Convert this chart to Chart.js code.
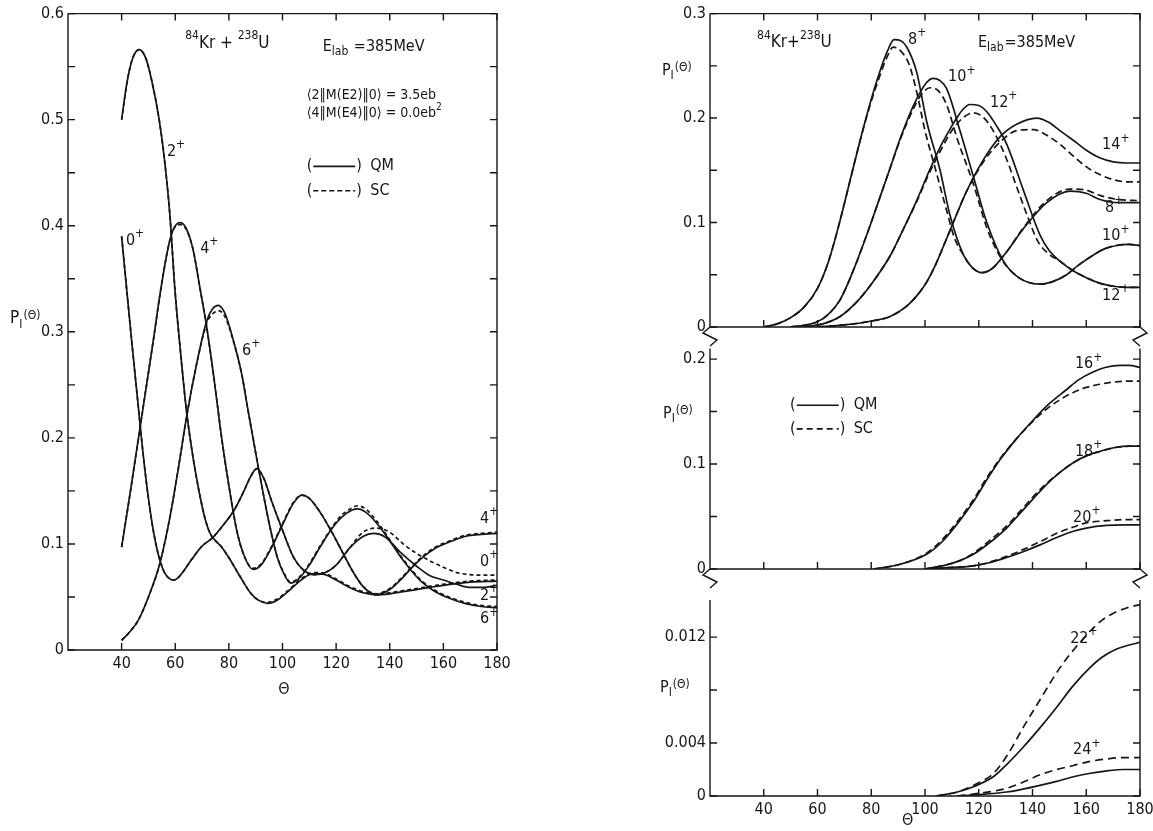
<!DOCTYPE html>
<html>
<head>
<meta charset="utf-8">
<script src="https://cdn.jsdelivr.net/npm/chart.js@4.4.0/dist/chart.umd.min.js"></script>
<style>
  html, body { margin: 0; background: #fff; }
  #page { position: relative; width: 1153px; height: 831px; overflow: hidden; background: #fff; }
  canvas { position: absolute; }
</style>
</head>
<body>
<div id="page">
  <canvas id="left" width="540" height="720" style="left:0px;top:0px"></canvas>
  <canvas id="rTop" width="513" height="350" style="left:640px;top:0px"></canvas>
  <canvas id="rMid" width="513" height="265" style="left:640px;top:335px"></canvas>
  <canvas id="rBot" width="540" height="251" style="left:640px;top:580px"></canvas>
</div>
<script>
// axis ticks
const thetaTicks = [40, 60, 80, 100, 120, 140, 160, 180];
const leftYTicks = [0, 0.05, 0.1, 0.15, 0.2, 0.25, 0.3, 0.35, 0.4, 0.45, 0.5, 0.55, 0.6];
const leftYLabels = ['0', '', '0.1', '', '0.2', '', '0.3', '', '0.4', '', '0.5', '', '0.6'];
const topYTicks = [0, 0.05, 0.1, 0.15, 0.2, 0.25, 0.3];
const topYLabels = ['0', '', '0.1', '', '0.2', '', '0.3'];
const midYTicks = [0, 0.05, 0.1, 0.15, 0.2];
const midYLabels = ['0', '', '0.1', '', '0.2'];
const botYTicks = [0, 0.004, 0.008, 0.012];
const botYLabels = ['0', '0.004', '', '0.012'];

// left panel: I = 0+, 2+, 4+, 6+  (QM solid, SC dashed)
const th0 = [40, 42, 44, 46, 48, 50, 52, 54, 56, 58, 59.5, 61, 63, 66, 70, 74, 78, 82, 86, 88, 90.4, 93, 96, 100, 104, 108, 112, 116, 120, 125, 130, 134, 138, 144, 150, 155, 160, 165, 170, 175, 180];
const p0qm = [0.39, 0.337, 0.285, 0.235, 0.185, 0.143, 0.11, 0.087, 0.073, 0.067, 0.066, 0.068, 0.074, 0.085, 0.098, 0.106, 0.118, 0.132, 0.152, 0.163, 0.171, 0.162, 0.14, 0.113, 0.088, 0.075, 0.071, 0.073, 0.08, 0.096, 0.107, 0.110, 0.107, 0.092, 0.079, 0.07, 0.066, 0.062, 0.059, 0.059, 0.061];
const th0sc = [40, 42, 44, 46, 48, 50, 52, 54, 56, 58, 59.5, 61, 63, 66, 70, 74, 78, 82, 86, 88, 90.4, 93, 96, 100, 104, 108, 112, 116, 120, 125, 130, 135, 140, 145, 150, 155, 160, 165, 170, 175, 180];
const p0sc = [0.39, 0.337, 0.285, 0.235, 0.185, 0.143, 0.11, 0.087, 0.073, 0.067, 0.066, 0.068, 0.074, 0.085, 0.098, 0.106, 0.118, 0.132, 0.152, 0.163, 0.171, 0.162, 0.14, 0.113, 0.088, 0.075, 0.071, 0.073, 0.08, 0.096, 0.111, 0.115, 0.111, 0.100, 0.091, 0.084, 0.078, 0.073, 0.071, 0.0705, 0.0705];

const th2 = [40, 42, 44, 46.5, 49, 51.3, 54, 56, 58, 59.9, 62, 64.3, 66.8, 69, 71, 73, 75, 77, 80, 84, 88, 91, 94.5, 98, 102, 106, 110, 113, 116, 120, 125, 130, 135, 140, 145, 150, 160, 170, 180];
const p2qm = [0.50, 0.535, 0.557, 0.566, 0.558, 0.536, 0.50, 0.462, 0.41, 0.339, 0.28, 0.223, 0.179, 0.148, 0.125, 0.11, 0.103, 0.098, 0.087, 0.07, 0.054, 0.047, 0.044, 0.047, 0.055, 0.064, 0.071, 0.072, 0.071, 0.066, 0.059, 0.054, 0.052, 0.053, 0.055, 0.057, 0.061, 0.064, 0.065];
const p2sc = [0.50, 0.535, 0.557, 0.566, 0.558, 0.536, 0.50, 0.462, 0.41, 0.339, 0.28, 0.223, 0.179, 0.148, 0.125, 0.11, 0.103, 0.098, 0.087, 0.07, 0.054, 0.047, 0.045, 0.048, 0.056, 0.065, 0.072, 0.073, 0.072, 0.067, 0.06, 0.055, 0.053, 0.054, 0.056, 0.058, 0.062, 0.065, 0.066];

const th4 = [40, 43, 46, 49, 52, 54.3, 57, 59, 61.8, 64, 66.6, 69.3, 71.7, 74.5, 77.3, 80, 83, 86, 89, 92, 96, 100, 104, 107.2, 110, 114, 118, 122, 126, 130, 135, 140, 144, 148, 152.6, 157, 162.5, 168, 174, 180];
const p4qm = [0.097, 0.145, 0.195, 0.245, 0.295, 0.335, 0.375, 0.395, 0.403, 0.398, 0.378, 0.34, 0.305, 0.255, 0.2, 0.155, 0.112, 0.087, 0.076, 0.08, 0.097, 0.118, 0.138, 0.146, 0.143, 0.13, 0.113, 0.094, 0.075, 0.06, 0.052, 0.057, 0.066, 0.077, 0.088, 0.096, 0.102, 0.107, 0.109, 0.110];
const p4sc = [0.097, 0.145, 0.195, 0.245, 0.295, 0.335, 0.375, 0.395, 0.401, 0.397, 0.378, 0.34, 0.305, 0.255, 0.2, 0.155, 0.112, 0.087, 0.077, 0.081, 0.098, 0.119, 0.139, 0.146, 0.143, 0.13, 0.113, 0.094, 0.075, 0.06, 0.053, 0.058, 0.067, 0.078, 0.089, 0.097, 0.103, 0.108, 0.11, 0.111];

const th6 = [40, 43, 46.2, 50, 54.3, 58, 61.2, 64.3, 68, 71.7, 74, 76.1, 78.6, 81, 84.8, 87, 89, 91, 93, 95.4, 98, 100.3, 103, 106, 110, 114, 118, 122, 126, 128, 131, 135, 140, 144, 148, 152, 157, 162, 168, 174, 180];
const p6qm = [0.009, 0.017, 0.028, 0.05, 0.082, 0.125, 0.172, 0.221, 0.27, 0.31, 0.322, 0.325, 0.317, 0.298, 0.26, 0.228, 0.2, 0.172, 0.145, 0.115, 0.088, 0.073, 0.063, 0.067, 0.08, 0.097, 0.113, 0.125, 0.132, 0.133, 0.13, 0.12, 0.103, 0.088, 0.075, 0.064, 0.055, 0.049, 0.044, 0.041, 0.040];
const p6sc = [0.009, 0.017, 0.028, 0.05, 0.082, 0.125, 0.172, 0.221, 0.27, 0.308, 0.317, 0.32, 0.314, 0.297, 0.26, 0.228, 0.2, 0.172, 0.145, 0.115, 0.088, 0.074, 0.064, 0.068, 0.081, 0.098, 0.114, 0.127, 0.134, 0.136, 0.133, 0.122, 0.104, 0.089, 0.076, 0.065, 0.056, 0.05, 0.045, 0.042, 0.041];

// right top panel: I = 8+ .. 14+
const th8 = [40, 45, 50, 55, 60, 64, 68, 72, 76, 80, 83, 86, 88.5, 91, 93.2, 96.9, 100.6, 105.6, 109.3, 114.3, 117.5, 121.1, 125, 130.4, 136.6, 145.3, 154, 160, 165.1, 172, 180];
const p8qm = [0, 0.003, 0.009, 0.019, 0.037, 0.062, 0.098, 0.139, 0.18, 0.218, 0.243, 0.264, 0.275, 0.274, 0.268, 0.244, 0.197, 0.15, 0.107, 0.069, 0.057, 0.052, 0.056, 0.072, 0.094, 0.119, 0.130, 0.128, 0.122, 0.119, 0.119];
const th8sc = [40, 45, 50, 55, 60, 64, 68, 72, 76, 80, 83, 85.8, 88.2, 91, 94, 97, 100, 104, 108, 111, 114.3, 117.5, 121.1, 125, 130.4, 136.6, 145.3, 154, 160, 165.1, 172, 180];
const p8sc = [0, 0.003, 0.009, 0.019, 0.037, 0.062, 0.098, 0.139, 0.18, 0.216, 0.239, 0.258, 0.268, 0.264, 0.252, 0.224, 0.188, 0.15, 0.112, 0.085, 0.069, 0.057, 0.052, 0.056, 0.072, 0.095, 0.121, 0.132, 0.131, 0.126, 0.122, 0.121];

const th10 = [50, 56, 60, 64, 68.4, 73, 78.3, 82, 87, 91, 95.7, 100.6, 103.1, 105.5, 108.1, 113, 118, 123, 129.2, 135, 142.8, 147, 152.7, 157, 162.7, 167, 171.3, 176, 180];
const p10qm = [0, 0.002, 0.005, 0.012, 0.026, 0.052, 0.088, 0.115, 0.152, 0.182, 0.212, 0.234, 0.238, 0.236, 0.228, 0.188, 0.144, 0.10, 0.063, 0.047, 0.041, 0.043, 0.050, 0.059, 0.069, 0.075, 0.078, 0.079, 0.078];
const th10sc = [50, 56, 60, 64, 68.4, 73, 78.3, 82, 87, 91, 95.7, 98.5, 101.9, 105, 108, 112, 118, 123, 128.5, 135, 142.8, 147, 152.7, 157, 162.7, 167, 171.3, 176, 180];
const p10sc = [0, 0.002, 0.005, 0.012, 0.026, 0.052, 0.088, 0.115, 0.152, 0.181, 0.209, 0.222, 0.229, 0.226, 0.213, 0.18, 0.137, 0.095, 0.065, 0.047, 0.041, 0.043, 0.050, 0.059, 0.069, 0.075, 0.078, 0.079, 0.078];

const th12 = [55, 62, 68.4, 74.6, 80, 87, 92, 96.9, 101, 105.6, 109, 111.8, 114, 116.7, 120, 123, 126.5, 130.4, 136.6, 142.8, 146, 150.2, 155, 160.2, 165, 170.1, 175, 180];
const p12qm = [0, 0.003, 0.01, 0.024, 0.041, 0.068, 0.094, 0.121, 0.146, 0.172, 0.188, 0.2, 0.208, 0.213, 0.212, 0.206, 0.193, 0.175, 0.131, 0.088, 0.074, 0.063, 0.054, 0.047, 0.042, 0.039, 0.038, 0.038];
const th12sc = [55, 62, 68.4, 74.6, 80, 87, 92, 96.9, 101, 105.6, 110, 114, 118, 122, 126, 130, 134, 138, 142, 146, 150.2, 155, 160.2, 165, 170.1, 175, 180];
const p12sc = [0, 0.003, 0.01, 0.024, 0.041, 0.068, 0.094, 0.12, 0.144, 0.168, 0.188, 0.2, 0.205, 0.2, 0.185, 0.163, 0.135, 0.107, 0.082, 0.07, 0.063, 0.054, 0.047, 0.042, 0.039, 0.038, 0.038];

const th14 = [60, 70, 80.8, 87, 93.2, 97, 100.6, 104, 108.1, 111.8, 115.5, 121.7, 127.9, 134.1, 141.6, 146, 150.2, 155, 160.2, 165, 170.1, 175, 180];
const p14qm = [0, 0.002, 0.006, 0.01, 0.02, 0.03, 0.043, 0.06, 0.085, 0.108, 0.13, 0.160, 0.182, 0.194, 0.200, 0.196, 0.188, 0.179, 0.169, 0.162, 0.158, 0.157, 0.157];
const th14sc = [60, 70, 80.8, 87, 93.2, 97, 100.6, 104, 108.1, 111.8, 115.5, 121.7, 127.9, 134.1, 140.3, 145, 150.2, 155, 160.2, 165, 170.1, 175, 180];
const p14sc = [0, 0.002, 0.006, 0.01, 0.02, 0.03, 0.043, 0.06, 0.085, 0.108, 0.13, 0.158, 0.177, 0.188, 0.189, 0.184, 0.175, 0.164, 0.153, 0.146, 0.141, 0.139, 0.139];

// right middle panel: I = 16+, 18+, 20+
const th16 = [80.8, 90, 100.6, 106, 112, 118, 123, 127.9, 134, 140.3, 146, 152.7, 157, 162.7, 167, 172.6, 176, 180];
const p16qm = [0, 0.004, 0.014, 0.025, 0.043, 0.064, 0.085, 0.104, 0.124, 0.142, 0.157, 0.171, 0.18, 0.188, 0.192, 0.194, 0.194, 0.192];
const th16sc = [80.8, 90, 100.6, 106, 112, 118, 123, 127.9, 134, 140.3, 145, 150, 155, 160, 165, 170, 175, 180];
const p16sc = [0, 0.004, 0.015, 0.027, 0.045, 0.066, 0.087, 0.105, 0.124, 0.141, 0.152, 0.161, 0.168, 0.173, 0.176, 0.178, 0.179, 0.179];

const th18 = [100, 108, 113, 118, 124, 130.4, 135, 140.3, 145, 150.2, 155, 160.2, 165, 171.3, 176, 180];
const p18qm = [0, 0.004, 0.008, 0.014, 0.025, 0.039, 0.052, 0.067, 0.08, 0.092, 0.101, 0.108, 0.112, 0.116, 0.117, 0.117];
const p18sc = [0, 0.004, 0.008, 0.015, 0.027, 0.041, 0.054, 0.069, 0.081, 0.092, 0.101, 0.108, 0.112, 0.116, 0.117, 0.117];

const th20 = [100, 110, 118, 124, 130.4, 136, 142.8, 149, 155.2, 160, 167.7, 174, 180];
const p20qm = [0, 0.0015, 0.003, 0.006, 0.011, 0.016, 0.023, 0.03, 0.036, 0.039, 0.0415, 0.042, 0.042];
const p20sc = [0, 0.0015, 0.003, 0.0065, 0.012, 0.018, 0.026, 0.034, 0.040, 0.044, 0.046, 0.047, 0.047];

// right bottom panel: I = 22+, 24+
const th22 = [104, 112, 118, 125.4, 131, 136.6, 143, 149, 155, 161.4, 166, 171.3, 176, 180];
const p22qm = [0, 0.0003, 0.0007, 0.00145, 0.0025, 0.0037, 0.0052, 0.0067, 0.0083, 0.0097, 0.0105, 0.0111, 0.0114, 0.0116];
const th22sc = [104, 112, 118, 125.4, 131, 136.6, 142, 147.7, 152, 157.7, 162.7, 166, 170.1, 175, 180];
const p22sc = [0, 0.0003, 0.0008, 0.0017, 0.0032, 0.0052, 0.007, 0.0089, 0.0102, 0.0116, 0.0127, 0.0133, 0.0138, 0.0142, 0.01445];

const th24 = [112, 120, 130.4, 136, 142.8, 149, 155.2, 161, 167.7, 174, 180];
const p24qm = [0, 0.0001, 0.0003, 0.0005, 0.0008, 0.0011, 0.00145, 0.0017, 0.0019, 0.002, 0.002];
const p24sc = [0, 0.0002, 0.00058, 0.001, 0.0016, 0.002, 0.0023, 0.0026, 0.0028, 0.0029, 0.0029];

const ink = '#161616';
const fam = '"DejaVu Sans Condensed", "Liberation Sans Narrow", "DejaVu Sans", sans-serif';

// text placed in data units of each panel
const sup = t => [t, 'sup'];
const notes = {
  left: [
    { x: 63.7, y: 0.572, parts: [sup('84'), 'Kr + ', sup('238'), 'U'], size: 17 },
    { x: 115, y: 0.569, parts: ['E', ['lab', 'sub'], ' =385MeV'], size: 16 },
    { x: 109, y: 0.523, parts: ['\u27E82\u2016M(E2)\u20160\u27E9 = 3.5eb'], size: 14 },
    { x: 109, y: 0.506, parts: ['\u27E84\u2016M(E4)\u20160\u27E9 = 0.0eb', sup('2')], size: 14 },
    { x: 109, y: 0.456, key: [], label: 'QM' },
    { x: 109, y: 0.433, key: [5, 3], label: 'SC' },
    { x: 56.9, y: 0.470, parts: ['2', sup('+')] },
    { x: 41.6, y: 0.386, parts: ['0', sup('+')] },
    { x: 69.3, y: 0.378, parts: ['4', sup('+')] },
    { x: 84.9, y: 0.282, parts: ['6', sup('+')] },
    { x: 173.7, y: 0.124, parts: ['4', sup('+')] },
    { x: 173.7, y: 0.083, parts: ['0', sup('+')] },
    { x: 173.7, y: 0.051, parts: ['2', sup('+')] },
    { x: 173.7, y: 0.029, parts: ['6', sup('+')] },
    { x: -1.6, y: 0.312, parts: ['P', ['I', 'sub'], ['(\u0398)', 'hi']], size: 17 },
    { x: 98.4, y: -0.0376, parts: ['\u0398'] }
  ],
  rTop: [
    { x: 37.5, y: 0.272, parts: [sup('84'), 'Kr+', sup('238'), 'U'], size: 17 },
    { x: 119.7, y: 0.272, parts: ['E', ['lab', 'sub'], '=385MeV'], size: 16 },
    { x: 93.7, y: 0.275, parts: ['8', sup('+')] },
    { x: 108.6, y: 0.239, parts: ['10', sup('+')] },
    { x: 124.2, y: 0.215, parts: ['12', sup('+')] },
    { x: 165.9, y: 0.174, parts: ['14', sup('+')] },
    { x: 167, y: 0.114, parts: ['8', sup('+')] },
    { x: 165.9, y: 0.087, parts: ['10', sup('+')] },
    { x: 165.9, y: 0.030, parts: ['12', sup('+')] },
    { x: 2.1, y: 0.2456, parts: ['P', ['I', 'sub'], ['(\u0398)', 'hi']], size: 16 }
  ],
  rMid: [
    { x: 49.8, y: 0.156, key: [], label: 'QM' },
    { x: 49.8, y: 0.1335, key: [6, 4], label: 'SC' },
    { x: 155.8, y: 0.195, parts: ['16', sup('+')] },
    { x: 155.8, y: 0.112, parts: ['18', sup('+')] },
    { x: 155.1, y: 0.049, parts: ['20', sup('+')] },
    { x: 2.5, y: 0.148, parts: ['P', ['I', 'sub'], ['(\u0398)', 'hi']], size: 16 }
  ],
  rBot: [
    { x: 154, y: 0.0119, parts: ['22', sup('+')] },
    { x: 155.1, y: 0.00345, parts: ['24', sup('+')] },
    { x: 1.4, y: 0.0082, parts: ['P', ['I', 'sub'], ['(\u0398)', 'hi']], size: 16 },
    { x: 91.4, y: -0.0019, parts: ['\u0398'] }
  ]
};
const frames = {
  left: { top: true, breakBelow: false },
  rTop: { top: true, breakBelow: true },
  rMid: { top: false, breakBelow: true },
  rBot: { top: false, breakBelow: false }
};

function richText(ctx, x, y, parts, size) {
  let cx = x;
  parts.forEach(part => {
    const [txt, kind] = typeof part === 'string' ? [part, ''] : part;
    const s = kind ? Math.round(size * 0.72) : size;
    const dy = kind === 'sup' ? -size * 0.42 : kind === 'sub' ? size * 0.32 : kind === 'hi' ? -size * 0.18 : 0;
    ctx.font = s + 'px ' + fam;
    ctx.fillText(txt, cx, y + dy);
    cx += ctx.measureText(txt).width + (kind === 'sub' ? 1 : 0);
  });
}

function drawKey(ctx, px, py, dash, label) {
  ctx.font = '16px ' + fam;
  ctx.fillText('(', px, py);
  const x0 = px + ctx.measureText('(').width + 1;
  const x1 = x0 + 42;
  ctx.setLineDash(dash);
  ctx.lineWidth = 1.6;
  ctx.beginPath();
  ctx.moveTo(x0, py);
  ctx.lineTo(x1, py);
  ctx.stroke();
  ctx.setLineDash([]);
  ctx.fillText(')', x1 + 1, py);
  ctx.fillText(label, x1 + 15, py);
}

function zig(ctx, x, y, dir) {
  ctx.beginPath();
  ctx.moveTo(x, y);
  ctx.lineTo(x + 7 * dir, y + 6);
  ctx.lineTo(x - 7 * dir, y + 13);
  ctx.lineTo(x, y + 19);
  ctx.stroke();
}

const framePlugin = {
  id: 'frame',
  afterDraw(chart) {
    const id = chart.canvas.id;
    const f = frames[id];
    const { ctx, chartArea: a, scales: { x, y } } = chart;
    ctx.save();
    ctx.strokeStyle = ink;
    ctx.fillStyle = ink;
    ctx.lineWidth = 1.4;
    ctx.setLineDash([]);
    ctx.beginPath();
    ctx.moveTo(a.left, a.top);
    ctx.lineTo(a.left, a.bottom);
    ctx.lineTo(a.right, a.bottom);
    ctx.lineTo(a.right, a.top);
    if (f.top) ctx.lineTo(a.left, a.top);
    ctx.stroke();

    // inward tick marks
    const L = 7;
    ctx.beginPath();
    x.ticks.forEach(t => {
      const px = x.getPixelForValue(t.value);
      ctx.moveTo(px, a.bottom);
      ctx.lineTo(px, a.bottom - L);
      if (f.top) {
        ctx.moveTo(px, a.top);
        ctx.lineTo(px, a.top + L);
      }
    });
    y.ticks.forEach(t => {
      const py = y.getPixelForValue(t.value);
      ctx.moveTo(a.left, py);
      ctx.lineTo(a.left + L, py);
      ctx.moveTo(a.right, py);
      ctx.lineTo(a.right - L, py);
    });
    ctx.stroke();

    if (f.breakBelow) {
      zig(ctx, a.left, a.bottom, -1);
      zig(ctx, a.right, a.bottom, 1);
    }

    ctx.textBaseline = 'middle';
    ctx.textAlign = 'left';
    notes[id].forEach(n => {
      const px = x.getPixelForValue(n.x);
      const py = y.getPixelForValue(n.y);
      if (n.key) drawKey(ctx, px, py, n.key, n.label);
      else richText(ctx, px, py, n.parts, n.size || 16);
    });
    ctx.restore();
  }
};

const pts = (th, p) => th.map((t, i) => ({ x: t, y: p[i] }));
const qm = (th, p) => ({ data: pts(th, p), borderWidth: 1.7, borderDash: [] });
const sc = (th, p, dash) => ({ data: pts(th, p), borderWidth: 1.7, borderDash: dash });

function panel(id, datasets, o) {
  const tickFont = { family: fam, size: 16 };
  return new Chart(document.getElementById(id), {
    type: 'line',
    data: { datasets: datasets },
    options: {
      responsive: false,
      animation: false,
      events: [],
      layout: { padding: o.pad },
      elements: {
        point: { radius: 0 },
        line: { borderColor: ink, cubicInterpolationMode: 'monotone', fill: false }
      },
      plugins: { legend: { display: false }, tooltip: { enabled: false } },
      scales: {
        x: {
          type: 'linear', min: 20, max: 180,
          afterBuildTicks: s => { s.ticks = thetaTicks.map(v => ({ value: v })); },
          afterFit: s => { s.height = o.xh; },
          grid: { display: false, drawTicks: false },
          border: { display: false },
          ticks: { display: o.xLabels, autoSkip: false, maxRotation: 0, padding: 4, color: ink, font: tickFont, callback: v => String(v) }
        },
        y: {
          type: 'linear', min: 0, max: o.ymax,
          afterBuildTicks: s => { s.ticks = o.yTicks.map(v => ({ value: v })); },
          afterFit: s => { s.width = o.yw; },
          grid: { display: false, drawTicks: false },
          border: { display: false },
          ticks: { autoSkip: false, padding: 4, color: ink, font: tickFont, callback: (v, i) => o.yLabels[i] }
        }
      }
    },
    plugins: [framePlugin]
  });
}

panel('left', [
  qm(th0, p0qm), sc(th0sc, p0sc, [4, 3]),
  qm(th2, p2qm), sc(th2, p2sc, [4, 3]),
  qm(th4, p4qm), sc(th4, p4sc, [4, 3]),
  qm(th6, p6qm), sc(th6, p6sc, [4, 3])
], { pad: { left: 0, top: 12, right: 43, bottom: 0 }, xh: 70, yw: 68, ymax: 0.6, yTicks: leftYTicks, yLabels: leftYLabels, xLabels: true });

panel('rTop', [
  qm(th8, p8qm), sc(th8sc, p8sc, [7, 4]),
  qm(th10, p10qm), sc(th10sc, p10sc, [7, 4]),
  qm(th12, p12qm), sc(th12sc, p12sc, [7, 4]),
  qm(th14, p14qm), sc(th14sc, p14sc, [7, 4])
], { pad: { left: 0, top: 7, right: 13, bottom: 0 }, xh: 23, yw: 70, ymax: 0.3, yTicks: topYTicks, yLabels: topYLabels, xLabels: false });

panel('rMid', [
  qm(th16, p16qm), sc(th16sc, p16sc, [7, 4]),
  qm(th18, p18qm), sc(th18, p18sc, [7, 4]),
  qm(th20, p20qm), sc(th20, p20sc, [7, 4])
], { pad: { left: 0, top: 10, right: 13, bottom: 0 }, xh: 31, yw: 70, ymax: 0.21, yTicks: midYTicks, yLabels: midYLabels, xLabels: false });

panel('rBot', [
  qm(th22, p22qm), sc(th22sc, p22sc, [8, 5]),
  qm(th24, p24qm), sc(th24, p24sc, [8, 5])
], { pad: { left: 0, top: 20, right: 40, bottom: 0 }, xh: 35, yw: 70, ymax: 0.0148, yTicks: botYTicks, yLabels: botYLabels, xLabels: true });
</script>
</body>
</html>
